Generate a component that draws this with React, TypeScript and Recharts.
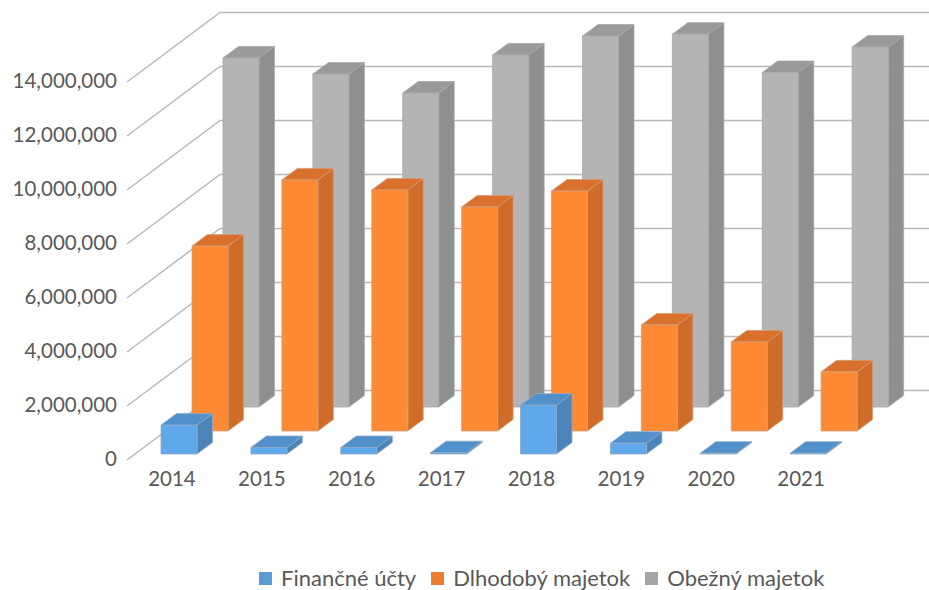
import { BarChart, Bar, XAxis, YAxis, CartesianGrid, Legend } from "recharts";

const years = ["2014", "2015", "2016", "2017", "2018", "2019", "2020", "2021"];
const financneUcty = [1070000, 240000, 240000, 50000, 1810000, 400000, 30000, 30000];
const dlhodobyMajetok = [6850000, 9300000, 8930000, 8300000, 8890000, 3930000, 3300000, 2190000];
const obeznyMajetok = [12930000, 12330000, 11630000, 13040000, 13740000, 13810000, 12390000, 13330000];
const yTicks = [0, 2000000, 4000000, 6000000, 8000000, 10000000, 12000000, 14000000];
const legendOrder = ["Finančné účty", "Dlhodobý majetok", "Obežný majetok"];

const data = years.map((year, i) => ({
    year,
    financne: financneUcty[i],
    dlhodoby: dlhodobyMajetok[i],
    obezny: obeznyMajetok[i],
}));

const TEXT_COLOR = "#595959";
const FONT = "Lato, 'Open Sans', sans-serif";
const DEPTH_X = 15.5;
const DEPTH_Y = 11.5;

// kvader: predna stena, vrch a bok
const box3d =
    (dx: number, dy: number, front: string, top: string, side: string, edge: string) =>
    (props: any) => {
        const x = props.x + dx;
        const y = props.y + dy;
        const w = props.width;
        const h = props.height;
        return (
            <g stroke={edge} strokeWidth={0.8} strokeLinejoin="round">
                <polygon
                    points={`${x + w},${y} ${x + w + DEPTH_X},${y - DEPTH_Y} ${x + w + DEPTH_X},${y + h - DEPTH_Y} ${x + w},${y + h}`}
                    fill={side}
                />
                <polygon
                    points={`${x},${y} ${x + DEPTH_X},${y - DEPTH_Y} ${x + w + DEPTH_X},${y - DEPTH_Y} ${x + w},${y}`}
                    fill={top}
                />
                <rect x={x} y={y} width={w} height={h} fill={front} />
            </g>
        );
    };

// mriezka ide sikmo po podlahe a potom rovno po zadnej stene
const gridLine = (props: any) => (
    <path
        key={`grid-${props.y1}`}
        d={`M${props.x1 - 38},${props.y1} L${props.x1 + 55},${props.y1 - 69.5} L929,${props.y1 - 69.5}`}
        fill="none"
        stroke="#b8b8b8"
        strokeWidth={1.5}
    />
);

const renderLegend = (props: any) => {
    const items = [...(props.payload ?? [])].sort(
        (a: any, b: any) => legendOrder.indexOf(a.value) - legendOrder.indexOf(b.value)
    );
    return (
        <div style={{ display: "flex", paddingLeft: 259, height: 28, alignItems: "center" }}>
            {items.map((item: any) => (
                <div key={item.value} style={{ display: "flex", alignItems: "center", marginRight: 15 }}>
                    <span style={{ width: 13, height: 13, background: item.color, marginRight: 9 }} />
                    <span style={{ fontFamily: FONT, fontSize: 22, color: TEXT_COLOR, lineHeight: "28px" }}>
                        {item.value}
                    </span>
                </div>
            ))}
        </div>
    );
};

export default function App() {
    return (
        <div style={{ position: "absolute", left: 0, top: 0 }}>
            <BarChart
                width={929}
                height={590}
                data={data}
                barSize={36}
                barGap={-36}
                margin={{ top: 82, right: 45, bottom: 62, left: 0 }}
            >
                <CartesianGrid vertical={false} horizontal={gridLine} />
                <XAxis
                    dataKey="year"
                    height={40}
                    axisLine={false}
                    tickLine={false}
                    tickMargin={5}
                    tick={{ fill: TEXT_COLOR, fontSize: 20.5, fontFamily: FONT, dx: -38 }}
                />
                <YAxis
                    width={165}
                    domain={[0, 14000000]}
                    ticks={yTicks}
                    axisLine={false}
                    tickLine={false}
                    tickMargin={42}
                    tickFormatter={(v: number) => v.toLocaleString("en-US")}
                    tick={{ fill: TEXT_COLOR, fontSize: 20.5, fontFamily: FONT, dy: -1 }}
                />
                <Legend
                    content={renderLegend}
                    wrapperStyle={{ top: 564, left: 0, width: 929, height: 28 }}
                />
                {/* poradie kreslenia: od zadnej rady po prednu */}
                <Bar
                    dataKey="obezny"
                    name="Obežný majetok"
                    fill="#A5A5A5"
                    isAnimationActive={false}
                    shape={box3d(31, -53, "#b4b4b4", "#9a9a9a", "#8f8f8f", "#a8a8a8")}
                />
                <Bar
                    dataKey="dlhodoby"
                    name="Dlhodobý majetok"
                    fill="#ED7D31"
                    isAnimationActive={false}
                    shape={box3d(0, -29, "#ff8a33", "#d9702b", "#cf6c2a", "#d0a078")}
                />
                <Bar
                    dataKey="financne"
                    name="Finančné účty"
                    fill="#5B9BD5"
                    isAnimationActive={false}
                    shape={box3d(-31, -6, "#5fa8ec", "#5290cb", "#4c84ba", "#8fa9c4")}
                />
            </BarChart>
        </div>
    );
}
